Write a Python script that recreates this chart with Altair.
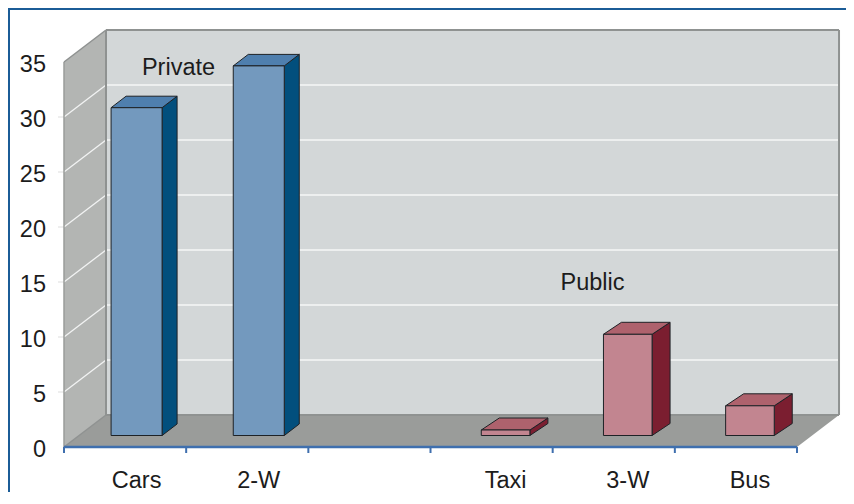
import altair as alt
import pandas as pd

categories = ["Cars", "2-W", "", "Taxi", "3-W", "Bus"]
values = [29.8, 33.6, None, 0.5, 9.2, 2.7]
groups = ["private", "private", None, "public", "public", "public"]
y_ticks = [0, 5, 10, 15, 20, 25, 30, 35]
annotations = ["Private", "Public"]

W, H = 838, 484
PX_U, PX_V = 122.17, 11.0          # pixels per x slot / per y unit
X0, Y0 = 64 - 8, 447 - 8           # origin of the front plane in the plot area
XMIN = -X0 / PX_U
XMAX = (W - X0) / PX_U
YMAX = Y0 / PX_V
YMIN = (Y0 - H) / PX_V
DU, DV = 42 / PX_U, 32 / PX_V      # chart depth
xs = alt.Scale(domain=[XMIN, XMAX], nice=False, zero=False)
ys = alt.Scale(domain=[YMIN, YMAX], nice=False, zero=False)
FONT = "Liberation Sans"
TXT = "#1C1C1C"

X = lambda f="u": alt.X(f"{f}:Q", scale=xs, axis=None)
Y = lambda f="v": alt.Y(f"{f}:Q", scale=ys, axis=None, stack=None)


def vert(points, **style):
    """Area with vertical sides: points are (u, v_top, v_bottom)."""
    df = pd.DataFrame(points, columns=["u", "v", "v2"])
    return alt.Chart(df).mark_area(orient="vertical", **style).encode(
        x=X(), y=Y(), y2="v2:Q")


def horiz(points, **style):
    """Area with horizontal sides: points are (v, u_left, u_right)."""
    df = pd.DataFrame(points, columns=["v", "u", "u2"])
    return alt.Chart(df).mark_area(orient="horizontal", **style).encode(
        y=Y(), x=X(), x2="u2:Q")


def seg(u0, v0, u1, v1, color, width):
    df = pd.DataFrame({"u": [u0, u1], "v": [v0, v1], "o": [0, 1]})
    return alt.Chart(df).mark_line(color=color, strokeWidth=width).encode(
        x=X(), y=Y(), order="o:O")


TOP = y_ticks[-1]
layers = []
# walls and floor
layers.append(vert([(DU, TOP + DV, DV), (6 + DU, TOP + DV, DV)], color="#D3D7D8"))
layers.append(vert([(0, TOP, 0), (DU, TOP + DV, DV)], color="#B3B5B3"))
layers.append(horiz([(0, 0, 6), (DV, DU, 6 + DU)], color="#9A9C9A"))

# gridlines
for t in y_ticks[1:-1]:
    layers.append(seg(0, t, DU, t + DV, "#F2F3F3", 1.3))
    layers.append(seg(DU, t + DV, 6 + DU, t + DV, "#F6F7F7", 1.6))
    layers.append(seg(-6 / PX_U, t, 0, t, "#DDDDDD", 1))

# wall edges
EDGE = "#8F9291"
layers.append(seg(DU, TOP + DV, 6 + DU, TOP + DV, EDGE, 2))
layers.append(seg(6 + DU, TOP + DV, 6 + DU, DV, EDGE, 2))
layers.append(seg(DU, TOP + DV, DU, DV, EDGE, 2))
layers.append(seg(DU, DV, 6 + DU, DV, EDGE, 2))
layers.append(seg(0, 0, 0, TOP, "#9A9C9A", 1.5))
layers.append(seg(0, TOP, DU, TOP + DV, EDGE, 1.5))
layers.append(seg(0, 0, DU, DV, EDGE, 1.5))

# x axis line and ticks
AXIS = "#3F6FAE"
layers.append(seg(0, 0, 6, 0, AXIS, 2.4))
for i in range(7):
    layers.append(seg(i, 0, i, -6 / PX_V, AXIS, 2))

# bars
STYLE = {
    "private": dict(front="#7399BE", top="#4F7FAE", side="#024F7D",
                    hw=25.5 / PX_U, dx=15 / PX_U, dy=11.5 / PX_V, shift=11.5 / PX_U),
    "public": dict(front="#C28590", top="#AE626D", side="#7B1E30",
                   hw=24.3 / PX_U, dx=18 / PX_U, dy=12 / PX_V, shift=14 / PX_U),
}
BASE = (447 - 435.5) / PX_V
OUT = "#1E2226"
label_u = []
for i, (val, grp) in enumerate(zip(values, groups)):
    if val is None:
        label_u.append(i + 0.5)
        continue
    s = STYLE[grp]
    c = i + 0.5 + s["shift"]
    label_u.append(c)
    l, r = c - s["hw"], c + s["hw"]
    top = BASE + val
    line = dict(stroke=OUT, strokeWidth=1)
    layers.append(vert([(r, top, BASE), (r + s["dx"], top + s["dy"], BASE + s["dy"])],
                       color=s["side"], **line))
    layers.append(horiz([(top, l, r), (top + s["dy"], l + s["dx"], r + s["dx"])],
                        color=s["top"], **line))
    layers.append(vert([(l, top, BASE), (r, top, BASE)], color=s["front"], **line))

# frame
FRAME = "#1B5C97"
layers.append(seg(XMIN, (Y0 - 1) / PX_V, XMAX, (Y0 - 1) / PX_V, FRAME, 2))
layers.append(seg((1 - X0) / PX_U, YMAX, (1 - X0) / PX_U, YMIN, FRAME, 2))

# texts
tick_df = pd.DataFrame({"t": [str(t) for t in y_ticks], "v": y_ticks})
tick_df["u"] = -18 / PX_U
layers.append(alt.Chart(tick_df).mark_text(
    align="right", baseline="middle", font=FONT, fontSize=23.5, color=TXT, dy=2.5
).encode(x=X(), y=Y(), text="t:N"))

cat_df = pd.DataFrame({"t": categories, "u": label_u})
cat_df = cat_df[cat_df.t != ""]
cat_df["v"] = -33.5 / PX_V
layers.append(alt.Chart(cat_df).mark_text(
    align="center", baseline="middle", font=FONT, fontSize=23.5, color=TXT
).encode(x=X(), y=Y(), text="t:N"))

ann_df = pd.DataFrame({"t": annotations,
                       "u": [(178.5 - 64) / PX_U, (592.5 - 64) / PX_U],
                       "v": [(447 - 68) / PX_V, (447 - 283) / PX_V]})
layers.append(alt.Chart(ann_df).mark_text(
    align="center", baseline="middle", font=FONT, fontSize=23.5, color=TXT
).encode(x=X(), y=Y(), text="t:N"))

chart = alt.layer(*layers).properties(
    width=W, height=H, padding=0,
    autosize=alt.AutoSizeParams(type="none"),
).configure_view(stroke=None)

chart.save("out.html", embed_options={"renderer": "svg", "actions": False})
